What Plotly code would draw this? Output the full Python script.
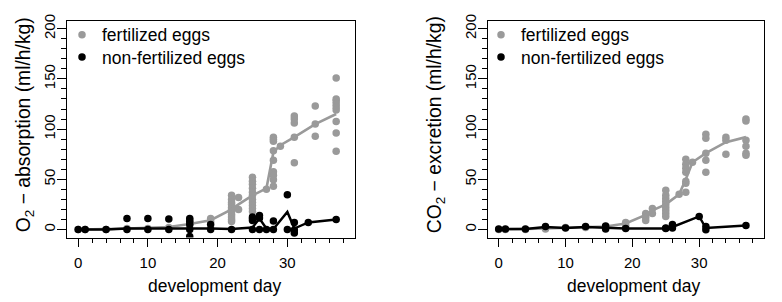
import plotly.graph_objects as go

# ---------------- data ----------------
# Panel 1: O2 absorption
o2_fert_day = [0, 1, 4, 7, 10, 13, 16, 16, 16, 19, 19,
               22, 22, 22, 22, 22, 22, 22, 22, 22, 22, 22,
               23, 23,
               25, 25, 25, 25, 25, 25, 25, 25, 25, 25, 25,
               27,
               28, 28, 28, 28, 28, 28, 28, 28, 28,
               29,
               31, 31, 31, 31, 31,
               34, 34, 34,
               37, 37, 37, 37, 37, 37, 37, 37, 37]
o2_fert_val = [0, 0, 0, 1, 1, 2, 5, 8, 10, 8, 11,
               34, 30, 27, 25, 22, 20, 18, 15, 12.5, 10, 8,
               32, 20,
               52, 48, 45, 41, 37, 34, 30, 27, 24, 21, 18,
               40,
               92, 90, 88, 78.5, 69, 57.5, 54, 49.5, 43,
               83,
               113, 110, 106, 92, 66.5,
               123, 105, 93,
               151, 130, 128, 125, 122, 119, 107.5, 96, 78]
o2_fert_line_day = [0, 1, 4, 7, 10, 13, 16, 19, 22, 23, 25, 27, 28, 29, 31, 34, 37]
o2_fert_line_val = [0, 0, 0.5, 1, 1.5, 2.5, 5.5, 9.3, 20, 25, 34, 41, 77, 84, 92, 105, 115]

o2_non_day = [0, 1, 4, 7, 7, 10, 10, 13, 13, 16, 16, 16, 16, 16, 19, 19, 22,
              25, 25, 25, 25, 26, 26, 26, 27, 28, 28, 30, 30, 31, 31, 31, 33, 37]
o2_non_val = [0, 0, 0, 0, 11, 0, 11, 0, 10.5, 0, 5, 8, 11, -7, 0, 5, 0,
              0, 9, 11, 12.5, 0, 11.5, 14, 0, 0, 8.5, 0, 34.5, -3.5, -0.5, 7, 7, 10]
o2_non_line_day = [0, 1, 4, 7, 10, 13, 16, 19, 22, 25, 26, 27, 28, 30, 31, 33, 37]
o2_non_line_val = [0, 0, 0, 1, 1, 1.5, 1.5, 1, 0.5, 2, 11, 1, 0.5, 17.5, 1, 7, 10]

# Panel 2: CO2 excretion
co2_fert_day = [0, 1, 4, 7, 10, 13, 16, 19, 19,
                22, 22, 22, 22,
                23, 23,
                25, 25, 25, 25, 25, 25, 25, 25, 25,
                27,
                28, 28, 28, 28, 28, 28, 28,
                29,
                31, 31, 31, 31, 31,
                34, 34, 34,
                37, 37, 37, 37, 37, 37]
co2_fert_val = [0, 0, 0, 0.5, 2, 2, 3, 4, 7,
                16, 14, 12, 9,
                21, 16,
                39, 34, 31, 28, 25, 22, 19, 16, 13,
                35,
                70, 65, 61, 57, 48, 46, 37,
                67,
                95, 91, 76, 69, 57,
                92, 89, 75,
                110, 108, 89, 83, 76, 74]
co2_fert_line_day = [0, 1, 4, 7, 10, 13, 16, 19, 22, 23, 25, 27, 28, 29, 31, 34, 37]
co2_fert_line_val = [0, 0, 0.5, 1, 1.5, 2, 3, 6, 14.5, 19, 25, 35, 50, 67, 76, 87, 92]

co2_non_day = [0, 1, 4, 7, 10, 13, 16, 16, 19, 25, 25, 26, 26, 30, 31, 31, 37]
co2_non_val = [0.5, 0.5, 0.5, 3, 1.5, 3, 0.5, 3.5, 1, 1, 1.5, 1.5, 5, 13, -0.3, 3, 4]
co2_non_line_day = [0, 1, 4, 7, 10, 13, 16, 19, 25, 26, 30, 31, 37]
co2_non_line_val = [0.5, 0.5, 0.5, 2.5, 1.5, 2.5, 2, 1, 1, 2.5, 13, 1.5, 4]

x_tick_vals = [0, 10, 20, 30]
y_tick_vals = [0, 50, 100, 150, 200]
legend_labels = ["fertilized eggs", "non-fertilized eggs"]
x_title = "development day"
y_titles = ["O<sub>2</sub> \u2212 absorption (ml/h/kg)",
            "CO<sub>2</sub> \u2212 excretion (ml/h/kg)"]

# ---------------- style ----------------
W, H = 782, 302
FONT = "Liberation Sans, Arial, sans-serif"
GREY = "#9a9a9a"
BLACK = "#000000"
MS = 7.5

fig = go.Figure()

panels = [
    ("x", "y", o2_fert_day, o2_fert_val, o2_fert_line_day, o2_fert_line_val,
     o2_non_day, o2_non_val, o2_non_line_day, o2_non_line_val, ("legend", "legend2")),
    ("x2", "y2", co2_fert_day, co2_fert_val, co2_fert_line_day, co2_fert_line_val,
     co2_non_day, co2_non_val, co2_non_line_day, co2_non_line_val, ("legend3", "legend4")),
]

for (xa, ya, fd, fv, fld, flv, nd, nv, nld, nlv, lg) in panels:
    fig.add_trace(go.Scatter(x=fd, y=fv, xaxis=xa, yaxis=ya, mode="markers",
                             marker=dict(color=GREY, size=MS, line=dict(width=0)),
                             name=legend_labels[0], legend=lg[0], showlegend=True))
    fig.add_trace(go.Scatter(x=fld, y=flv, xaxis=xa, yaxis=ya, mode="lines",
                             line=dict(color=GREY, width=2.6), showlegend=False))
    fig.add_trace(go.Scatter(x=nd, y=nv, xaxis=xa, yaxis=ya, mode="markers",
                             marker=dict(color=BLACK, size=MS, line=dict(width=0)),
                             name=legend_labels[1], legend=lg[1], showlegend=True))
    fig.add_trace(go.Scatter(x=nld, y=nlv, xaxis=xa, yaxis=ya, mode="lines",
                             line=dict(color=BLACK, width=2.4), showlegend=False))

# plot boxes in pixels
box_left = [(67, 355), (488, 764)]
box_top, box_bottom = 14, 236

def px_x(p):
    return p / W

def px_y(p):
    return 1 - p / H

axis_common = dict(showgrid=False, zeroline=False, showline=True, mirror=True,
                   linecolor="black", linewidth=1.2, ticks="outside",
                   tickcolor="black", tickwidth=1,
                   tickfont=dict(family=FONT, size=15, color="black"))

for i, (l, r) in enumerate(box_left):
    sfx = "" if i == 0 else "2"
    fig.update_layout(**{
        "xaxis" + sfx: dict(domain=[px_x(l), px_x(r)], anchor="y" + sfx,
                             range=[-1.6, 39.7], tickvals=x_tick_vals, ticklen=8,
                             minor=dict(dtick=2, tick0=0, ticklen=4.5, ticks="outside",
                                        tickcolor="black", tickwidth=1),
                             ticklabelstandoff=3, **axis_common),
        "yaxis" + sfx: dict(domain=[px_y(box_bottom), px_y(box_top)], anchor="x" + sfx,
                             range=[-8, 208], tickvals=y_tick_vals, ticklen=9,
                             tickangle=-90,
                             minor=dict(dtick=10, tick0=0, ticklen=4.5, ticks="outside",
                                        tickcolor="black", tickwidth=1),
                             ticklabelstandoff=-4, **axis_common),
    })

# legends: one per entry for exact row placement
leg_font = dict(family=FONT, size=17.5, color="black")
leg_pos = {"legend": (62, 10), "legend2": (62, 33),
           "legend3": (481, 10), "legend4": (481, 33)}
for name, (lx, ly) in leg_pos.items():
    fig.update_layout(**{name: dict(x=px_x(lx), y=px_y(ly), xanchor="left", yanchor="top",
                                    xref="paper", yref="paper",
                                    bgcolor="rgba(0,0,0,0)", borderwidth=0,
                                    font=leg_font, itemsizing="trace",
                                    itemclick=False, itemdoubleclick=False)})

annotations = []
# x titles
for cx in (215, 634):
    annotations.append(dict(text=x_title, x=px_x(cx), y=px_y(286), xref="paper", yref="paper",
                            showarrow=False, xanchor="center", yanchor="middle",
                            font=dict(family=FONT, size=17.5, color="black")))
# y titles
for cx, t in zip((25, 436), y_titles):
    annotations.append(dict(text=t, x=px_x(cx), y=px_y(121), xref="paper", yref="paper",
                            showarrow=False, xanchor="center", yanchor="middle", textangle=-90,
                            font=dict(family=FONT, size=19.3, color="black")))

fig.update_layout(width=W, height=H, margin=dict(l=0, r=0, t=0, b=0),
                  paper_bgcolor="white", plot_bgcolor="white",
                  font=dict(family=FONT, color="black"),
                  annotations=annotations, showlegend=True)

fig.write_html("out.html")
